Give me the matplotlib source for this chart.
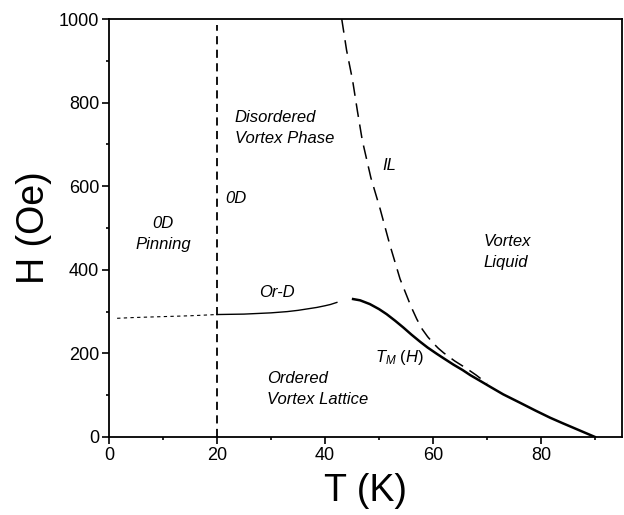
import numpy as np
import matplotlib
matplotlib.use('Agg')
import matplotlib.pyplot as plt
from matplotlib.ticker import MultipleLocator

plt.rcParams['font.family'] = ['Liberation Sans', 'DejaVu Sans']
plt.rcParams['mathtext.fontset'] = 'custom'
plt.rcParams['mathtext.rm'] = 'Liberation Sans'
plt.rcParams['mathtext.it'] = 'Liberation Sans:italic'

# Data
# 0D pinning boundary (dotted, low T)
pin_T = [1.5, 5, 10, 15, 20]
pin_H = [284, 286, 288, 290, 293]

# Or-D line (thin solid)
ord_T = [20, 25, 30, 33, 35, 37, 38.5, 40, 41, 42.2]
ord_H = [293, 294, 297, 300, 303, 307, 310, 314, 317, 322]

# melting line T_M(H) (thick solid)
tm_T = [45.2, 46.5, 48.3, 50, 51.4, 53, 54.5, 56, 57.6, 59, 60.7, 62, 63.8,
        65.5, 66.9, 68.5, 70.6, 73, 76.1, 79, 81.7, 84, 86, 88, 90]
tm_H = [330, 327, 318, 306, 294, 278, 262, 245, 228, 214, 199, 188, 173,
        160, 148, 136, 120, 102, 82, 63, 46, 33, 22, 11, 0]

# irreversibility line IL (dashed)
il_T = [43.1, 44, 45.1, 46, 46.9, 48.5, 50.2, 52, 53.9, 55.9, 57, 58, 59,
        60, 61, 62, 64, 66.2, 68, 70]
il_H = [1000, 925, 854, 780, 710, 620, 546, 460, 378, 313, 282, 258, 240,
        225, 212, 201, 182, 164, 148, 128]

# 0D crossover at T = 20 K
od_T = 20
od_Hmax = 985

fig = plt.figure(figsize=(6.24, 5.15), dpi=100)
ax = fig.add_axes([0.1747, 0.1515, 0.8221, 0.8115])

ax.plot(pin_T, pin_H, color='black', lw=0.8, dashes=(3, 3))
ax.plot(ord_T, ord_H, color='black', lw=1.0)
ax.plot(tm_T, tm_H, color='black', lw=1.8, solid_joinstyle='round')
ax.plot(il_T, il_H, color='black', lw=1.1, dashes=(9, 5))
ax.plot([od_T, od_T], [0, od_Hmax], color='black', lw=1.3, dashes=(4.5, 3))

kw = dict(fontsize=12, style='italic', color='black')
ax.text(10, 486, '0D\nPinning', ha='center', va='center', linespacing=1.5, **kw)
ax.text(21.5, 570, '0D', ha='left', va='center', **kw)
ax.text(23.3, 740, 'Disordered\nVortex Phase', ha='left', va='center', linespacing=1.5, **kw)
ax.text(50.7, 649, 'IL', ha='left', va='center', **kw)
ax.text(69.3, 442, 'Vortex\nLiquid', ha='left', va='center', linespacing=1.5, **kw)
ax.text(31, 346, 'Or-D', ha='center', va='center', **kw)
ax.text(29.2, 114, 'Ordered\nVortex Lattice', ha='left', va='center', linespacing=1.5, **kw)
ax.text(49.2, 190, r'$T_M$ $(H)$', ha='left', va='center', fontsize=12)

ax.set_xlim(0, 95)
ax.set_ylim(0, 1000)
ax.xaxis.set_major_locator(MultipleLocator(20))
ax.xaxis.set_minor_locator(MultipleLocator(10))
ax.yaxis.set_major_locator(MultipleLocator(200))
ax.yaxis.set_minor_locator(MultipleLocator(100))
ax.tick_params(which='major', direction='out', length=5, width=1.2, labelsize=13, pad=2)
ax.tick_params(which='minor', direction='out', length=2.5, width=1.2)
ax.tick_params(top=False, right=False, which='both')
for s in ax.spines.values():
    s.set_linewidth(1.3)

ax.set_xlabel('T (K)', fontsize=27, labelpad=7)
ax.set_ylabel('H (Oe)', fontsize=27, labelpad=5)

fig.savefig('out.png', dpi=100)
